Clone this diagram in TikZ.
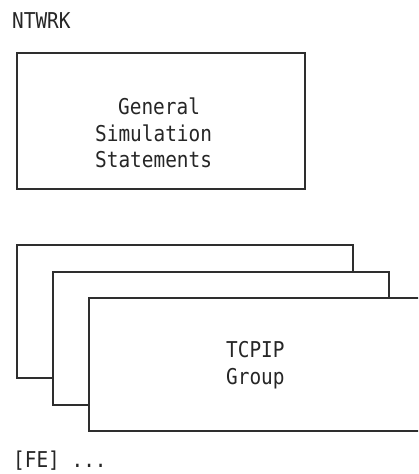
\documentclass[tikz,border=0pt]{standalone}
\usepackage{fontspec}
\setmonofont[FakeStretch=0.89]{DejaVu Sans Mono}
\begin{document}
\begin{tikzpicture}[x=1pt,y=-1pt,
  label/.style={font=\ttfamily\fontsize{21.8}{27}\selectfont, text=black!85, inner sep=0pt, anchor=base west},
  panel/.style={draw=black!82, line width=1.5pt, fill=white, inner sep=0pt, anchor=north west}]
  \clip (0,0) rectangle (418,474);
  \fill[white] (0,0) rectangle (418,474);

  \node[label] (title) at (12,28) {NTWRK};

  % general simulation statements box
  \node[panel, minimum width=288pt, minimum height=136pt] (gen) at (16,52) {};
  \node[label] (g1) at (118,114) {General};
  \node[label] (g2) at (95,141) {Simulation};
  \node[label] (g3) at (95,167) {Statements};

  % stacked TCPIP group boxes, back to front
  \node[panel, minimum width=336pt, minimum height=133pt] (grp1) at (16,244) {};
  \node[panel, minimum width=336pt, minimum height=133pt] (grp2) at (52,271) {};
  \node[panel, minimum width=360pt, minimum height=133pt] (grp3) at (88,297) {};
  \node[label] (t1) at (226,357) {TCPIP};
  \node[label] (t2) at (226,384) {Group};

  \node[label] (fe) at (13,467) {[FE] ...};
\end{tikzpicture}
\end{document}
